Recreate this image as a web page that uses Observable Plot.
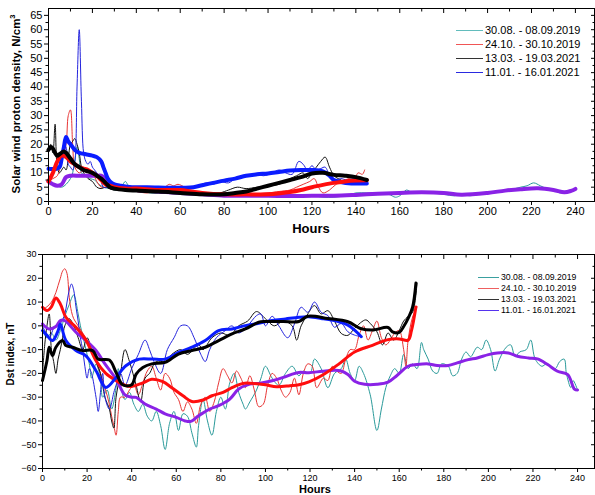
<!DOCTYPE html>
<html><head><meta charset="utf-8">
<script src="https://cdn.jsdelivr.net/npm/d3@7"></script>
<script src="https://cdn.jsdelivr.net/npm/@observablehq/plot@0.6"></script>
<style>
body{margin:0;background:#fff;font-family:"Liberation Sans",Arial,sans-serif;}
#wrap{position:relative;width:595px;height:495px;overflow:hidden;background:#fff;}
#wrap svg{position:absolute;left:0;}
.t{position:absolute;white-space:nowrap;color:#000;}
.rot{transform:translate(-50%,-50%) rotate(-90deg);font-weight:bold;}
.ctr{transform:translate(-50%,-50%);font-weight:bold;}
.leg{position:absolute;white-space:nowrap;display:flex;align-items:center;}
.leg span.l{display:inline-block;height:0;border-top:1.3px solid;margin-right:2px;}
</style></head><body>
<div id="wrap"></div>
<script>
// ---------- data ----------
const seriesLabels = ["30.08. - 08.09.2019", "24.10. - 30.10.2019", "13.03. - 19.03.2021", "11.01. - 16.01.2021"];
const hourTicks = [0,20,40,60,80,100,120,140,160,180,200,220,240];
const densTicks = [0,5,10,15,20,25,30,35,40,45,50,55,60,65];
const dstTicks = [-60,-50,-40,-30,-20,-10,0,10,20,30];

// Top panel: proton density (hours, N/cm3)
const topTeal = [[0,7],[2,6],[4,5.5],[6,5],[8,6],[10,8],[11,10],[12,14],[13,19],[14,15],[15,10],[17,9],[19,8],[21,7.5],[23,6],[25,5],[28,4.5],[31,4],[33,5],[35,7],[36,6],[38,4],[42,4],[46,3],[50,3],[55,3],[60,3],[65,2.5],[70,2.5],[75,2.5],[80,2],[85,2.5],[90,2],[95,2],[100,2],[105,2.5],[110,2],[115,1.5],[120,2],[125,1.5],[130,1.5],[135,2],[140,3],[145,3],[150,3],[155,2.5],[158,1.5],[160,2],[163,4],[166,3],[170,3.5],[175,3],[180,2.5],[185,2],[188,2.5],[192,2],[196,2.5],[200,3],[205,3.5],[210,4],[215,5],[218,5.5],[221,6.5],[224,5.5],[227,4.5],[230,4],[233,3],[236,3.5],[238,3.5],[240,4]];
const topRed = [[0,7],[2,8],[4,9],[6,14],[8,20],[9,30],[10,32],[11,20],[12,12],[14,10],[16,11],[18,11],[20,10],[22,7],[24,5],[26,5],[28,5],[30,4.5],[35,4],[40,3.5],[45,3],[50,4],[53,5],[55,6],[57,5.5],[59,6],[62,5],[65,3.5],[70,3],[80,2.5],[90,2.5],[100,3],[105,3.5],[110,4],[113,5],[116,6],[119,7],[121,8],[123,5],[125,3],[128,4],[131,6],[134,7],[137,8],[139,7],[141,10],[143,9.5],[144,11]];
const topBlack = [[0,18],[1,20],[2,17],[3,27],[4,12],[5,10],[6,11],[7,12],[8,11],[9,15],[10,20],[11,21],[12,22],[13,20],[14,17],[15,12],[16,10],[17,9],[18,8],[20,7],[22,5],[24,4.5],[26,5],[28,4.5],[30,4],[35,4],[40,3.5],[50,3],[60,3],[70,2.5],[78,3],[82,4],[86,5],[90,4.5],[95,5],[100,5.5],[105,6],[110,8],[113,9],[116,10],[118,8],[120,10],[122,12],[124,14],[126,15.5],[128,12],[130,9],[132,8],[135,7],[138,7.5],[141,7],[145,7.5]];
const topBlue = [[0,11],[2,11],[4,11],[6,15],[7,20],[8,19],[9,13],[10,12],[11,11],[12,14],[13,40],[14,60],[15,35],[16,17],[17,14],[18,13],[19,14],[20,12],[21,11],[22,10],[23,9],[24,7],[25,5],[27,5],[28,6],[30,5],[33,5],[36,4.5],[40,4.5],[45,4],[50,4.5],[55,4.5],[60,4],[65,5],[68,5.5],[72,6.5],[75,6],[78,7],[82,6.5],[85,8],[88,8.5],[92,9],[95,9.5],[98,9],[102,10],[105,11],[108,10],[111,9.5],[114,14],[116,13],[118,11],[120,12.5],[122,11],[124,11.5],[126,12],[128,9],[130,7],[133,8],[136,7.5],[139,8],[142,7.5],[145,7]];
const topPurpleSm = [[0,7],[2,6],[4,5.5],[6,6],[8,8.5],[10,9],[14,9],[18,9],[22,9],[24,9],[26,8],[28,6.5],[30,5.5],[33,5],[36,4.5],[40,4],[50,3.5],[60,3],[70,2.5],[80,2],[90,2],[100,2],[110,1.9],[120,2],[130,2],[140,2.3],[150,2.7],[160,3],[170,3.2],[180,3],[188,2.4],[200,3],[208,3.8],[215,4.3],[223,4.6],[230,4],[235,3.2],[238,3.7],[240,4.4]];
const topRedSm = [[0,7],[2,10],[4,14],[6,16],[8,15.5],[10,14],[12,13],[14,12],[16,11.5],[18,11],[20,10],[22,9],[24,7.5],[26,6],[28,5.5],[30,5],[35,4.5],[40,4.5],[50,4],[60,4],[65,3.5],[70,3],[80,2.5],[90,2.5],[100,2.5],[110,3.3],[115,4],[120,5],[125,5.8],[130,6.5],[135,7],[140,7.3],[145,7.4]];
const topBlackSm = [[0,18],[1,19],[2,18.5],[3,17],[4,16],[5,16.5],[7,17.5],[8,17],[10,15],[12,13],[14,12],[16,11],[18,10.5],[20,10],[22,9],[24,8],[26,6.5],[28,5],[30,4.5],[35,4],[40,3.8],[50,3.5],[60,3],[70,2.5],[80,2.5],[85,3],[90,3.5],[95,4.5],[100,5.5],[105,6.5],[110,7.5],[115,8.5],[120,9.8],[125,10],[130,9.3],[135,9],[140,8.5],[145,7.5]];
const topBlueSm = [[0,11.4],[3,11.4],[5,12],[6,15],[7,19],[8,22.5],[9,21],[10,20],[12,18],[14,17],[17,16.5],[20,16],[22,15.5],[24,14],[25,12],[26,10],[27,8],[28,7],[30,6],[33,5.5],[38,5],[45,5],[55,4.8],[62,4.8],[66,5],[70,5.7],[75,6.5],[80,7.3],[85,8],[90,9],[95,9.5],[100,9.8],[105,10.3],[110,10.8],[115,11],[120,11],[125,10.5],[128,9],[130,7.5],[133,6.8],[138,6.3],[145,6.3]];

// Bottom panel: Dst index (hours, nT)
const dstTeal = [[0,-2],[2,-5],[4,-3],[6,-6],[8,-2],[10,4],[12,9],[14,13],[16,5],[17,0],[18,-4],[19,-8],[20,-12],[21,-16],[22,-22],[23,-19],[24,-16],[26,-22],[27,-30],[29,-27],[31,-35],[33,-26],[34,-18],[35,-25],[37,-31],[39,-28],[41,-33],[43,-36],[45,-33],[47,-38],[49,-40],[51,-36],[53,-42],[55,-52],[57,-41],[59,-36],[61,-44],[63,-37],[65,-38],[67,-45],[69,-51],[70,-42],[72,-31],[74,-40],[76,-46],[78,-36],[80,-30],[82,-35],[84,-24],[86,-20],[88,-28],[90,-33],[91,-35],[93,-32],[96,-27],[98,-22],[100,-17],[103,-22],[106,-25],[109,-20],[112,-17],[115,-21],[117,-19],[120,-20],[122,-14],[125,-18],[128,-26],[131,-20],[134,-18],[136,-14],[138,-20],[140,-23],[142,-17],[144,-20],[147,-29],[150,-44],[152,-35],[154,-26],[156,-21],[158,-18],[160,-20],[162,-12],[164,-18],[166,-16],[168,-18],[170,-7],[171,-10],[173,-14],[175,-19],[177,-20],[179,-16],[182,-17],[184,-21],[186,-20],[188,-14],[190,-11],[192,-13],[195,-9],[197,-10],[199,-6],[201,-10],[203,-19],[205,-14],[208,-9],[210,-8],[212,-13],[214,-11],[217,-10],[219,-6],[221,-14],[224,-17],[226,-16],[228,-17],[230,-18],[232,-15],[234,-14],[235,-20],[237,-26],[238,-23],[240,-27]];
const dstRed = [[0,7],[2,8],[4,10],[6,14],[7,17],[8,20],[9,23],[10,24],[11,22],[12,12],[13,6],[14,3],[16,0],[18,-3],[20,-6],[22,-11],[24,-15],[26,-20],[28,-26],[30,-33],[31,-38],[32,-42],[33,-46],[34,-36],[35,-30],[37,-30],[39,-27],[41,-25],[43,-29],[45,-24],[47,-19],[49,-17],[51,-22],[53,-27],[55,-20],[57,-22],[59,-28],[61,-31],[63,-36],[65,-32],[67,-35],[69,-41],[71,-33],[73,-30],[75,-36],[77,-32],[79,-24],[81,-18],[83,-21],[85,-24],[87,-19],[89,-22],[91,-26],[93,-21],[95,-27],[97,-34],[99,-33],[101,-25],[103,-20],[105,-22],[107,-27],[109,-30],[111,-28],[113,-22],[115,-29],[117,-20],[119,-16],[121,-17],[123,-26],[126,-22],[128,-23],[130,-17],[132,-19],[134,-20],[136,-14],[138,-10],[140,-10],[142,-4],[144,0],[146,-6],[148,-2],[150,2],[152,-5],[154,-8],[156,-6],[158,-3],[160,-2],[162,-10],[163,-17],[164,-6],[166,3.7],[168,8]];
const dstBlack = [[0,-20],[1,-8],[2,0],[3,5],[4,-10],[5,-15],[6,-20],[7,-14],[8,-10],[9,-5],[10,0],[12,3],[14,0],[16,-5],[18,-10],[20,-5],[22,-10],[24,-15],[26,-20],[28,-30],[30,-35],[31,-40],[32,-43],[33,-30],[35,-20],[37,-10],[39,-15],[42,-25],[44,-32],[46,-22],[48,-20],[51,-15],[55,-15],[58,-12],[62,-10],[65,-12],[70,-8],[72,-10],[76,-5],[80,-3],[84,-4],[88,0],[92,2],[96,6],[100,3],[104,0],[108,2],[112,0],[114,-6],[116,0],[119,5],[122,8.5],[125,5],[128,6.4],[131,2],[134,-3.2],[137,-4],[140,-1],[145,2.5],[147,1],[150,-2.5],[152.5,-8],[155,-3],[157.5,-6],[160,-2],[162,2],[164,4],[166,5.7],[168,18]];
const dstBlue = [[0,0],[1,-2],[3,-5],[5,-1],[6,0],[8,1],[10,5],[11,10],[12,15],[13,17.6],[14,15],[15,8],[16,2],[17,-5],[18,-10],[19,-17],[20,-22],[21,-18],[22,-20],[24,-30],[25,-36],[26,-28],[27,-20],[28,-30],[30,-35],[32,-28],[33,-25],[35,-20],[37,-25],[40,-18],[43,-12],[46,-6],[48,-10],[50,-15],[53,-20],[56,-10],[59,-5],[62,0],[65,0],[68,-5],[71,-12],[73,-15],[75,-10],[78,-5],[82,-2],[85,0],[88,-3],[92,0],[96,4.3],[98,5],[100,0],[103,4],[106,0],[110,-5],[113,0.8],[116,7.8],[119,5.7],[122,10],[125,5.7],[128,4.3],[131,-0.6],[134,1],[137,-2.5],[140,-3.9],[143,-4.6]];
const dstPurpleSm = [[0,0.8],[3,-1.3],[6,-0.3],[8,2.2],[10,2.2],[12,0.5],[15,-2.7],[19.5,-6.2],[24,-10.4],[28,-16],[33,-22.4],[37,-29],[40,-30],[42,-30.1],[46,-32.9],[51,-35],[55,-37],[60,-38.5],[64,-40],[66.5,-40.2],[70,-37.8],[75,-35],[79,-33.6],[84,-30.8],[88,-26.6],[93,-24.5],[97,-24.2],[103,-23.1],[108,-21.7],[112,-20.3],[115,-19.6],[119.5,-19.7],[125.5,-19.1],[131,-18.7],[134,-19],[137,-20.5],[140,-23.3],[144.5,-24.6],[150,-24.6],[155,-23.7],[159,-20.9],[164,-17],[168,-16.3],[173,-16],[177,-16.7],[182,-16.7],[186,-15.6],[191,-14.2],[195,-13.5],[200,-12.1],[204,-11.4],[209,-11.4],[213,-12.8],[218,-13.5],[222,-13.9],[226.6,-16.3],[231,-19.1],[235.6,-20.5],[238.6,-26.6],[240,-27]];
const dstRedSm = [[0,7.8],[2,6.4],[4,8],[6,11.7],[8,9.2],[10.5,3.6],[15,-0.6],[19.5,-6],[24,-14.7],[28.4,-20],[33,-23],[37,-25],[40,-25.5],[45,-24],[49,-22.5],[54,-23.5],[58,-26],[63,-29.4],[67,-31.8],[72,-31.2],[76,-29.4],[81,-28],[85,-26],[90,-24.2],[94,-24.2],[100,-24.8],[105,-25.6],[111,-25.2],[115,-24.8],[119.5,-23.6],[125.5,-20.8],[133,-16],[140,-11],[148,-8.2],[155,-5.8],[160,-5.5],[164,-6],[165.5,-2],[167.5,7.9]];
const dstBlackSm = [[0,-23],[2,-14.7],[3,-9],[4.5,-12.5],[6,-9],[9,-6.2],[10.5,-8.3],[13.5,-9],[18,-10.4],[22.5,-10.4],[25,-14],[30,-14.4],[33,-19.6],[36,-24.8],[40,-24.8],[42,-20.3],[45,-17.5],[49,-16],[55,-15.4],[61,-11.9],[67,-10.4],[73,-9],[79,-6.2],[85,-3.4],[91,-1.3],[97,1.5],[100,1.8],[108,1.8],[115,1.8],[119,4],[128,3.1],[137,1.7],[142.6,-1.1],[148,-1.8],[155,-0.7],[157,-2.5],[160,-2.8],[162,-0.3],[164,3.1],[166,7.9],[167.5,18]];
const dstBlueSm = [[0,-2],[2,-4],[4.5,-6.2],[7,-2],[8,0.8],[10.5,-6.2],[15,-10.4],[19.5,-12.6],[24,-18.9],[28.4,-25.9],[33,-21.7],[37.4,-16.8],[43.4,-14],[49.4,-14],[55,-14],[61,-11.2],[67,-9],[73,-6.2],[79,-2],[85,-1.3],[91,0.1],[97,1.1],[103,2.2],[109,2.9],[115,3.6],[119.5,3.8],[125,3.1],[133,1.7],[137,0.3],[140,-1.8],[143,-4.6]];

// ---------- styles ----------
const cTealThin = "#2a9a9a", cRedThin = "#e83535", cBlackThin = "#111111", cBlueThin = "#2424dd";
const cPurple = "#8a22e6", cRedThick = "#ff0d0d", cBlackThick = "#000000", cBlueThick = "#0a1cff";
const legColsTop = ["#62bcbc", "#f05555", "#333333", "#2a2ae0"];
const legColsBot = ["#3aa0a0", "#ee6060", "#333333", "#5533ee"];
const font = "'Liberation Sans', Arial, sans-serif";

const X = d => d[0], Y = d => d[1];
function thin(data, stroke) { return Plot.line(data, {x: X, y: Y, stroke, strokeWidth: 1, curve: "catmull-rom"}); }
function thick(data, stroke, w) { return Plot.line(data, {x: X, y: Y, stroke, strokeWidth: w, curve: "catmull-rom", strokeLinejoin: "round", strokeLinecap: "round"}); }
const noText = () => "";

function axes(xMinor, yTicks, yMinor, fs) {
  return [
    Plot.axisX({ticks: hourTicks, tickSize: 4, tickPadding: 2, fontSize: fs, label: null}),
    Plot.axisX({ticks: xMinor, tickSize: 2.5, tickFormat: noText, label: null}),
    Plot.axisX({anchor: "top", ticks: hourTicks, tickSize: -4, tickFormat: noText, label: null}),
    Plot.axisX({anchor: "top", ticks: xMinor, tickSize: -2.5, tickFormat: noText, label: null}),
    Plot.axisY({ticks: yTicks, tickSize: 4, tickPadding: 2, fontSize: fs, label: null}),
    Plot.axisY({ticks: yMinor, tickSize: 2.5, tickFormat: noText, label: null}),
    Plot.axisY({anchor: "right", ticks: yTicks, tickSize: -4, tickFormat: noText, label: null}),
    Plot.axisY({anchor: "right", ticks: yMinor, tickSize: -2.5, tickFormat: noText, label: null}),
    Plot.frame({stroke: "#000", strokeWidth: 1})
  ];
}
const hourMinor = d3.range(10, 250, 20);

const topPlot = Plot.plot({
  width: 595, height: 240, marginLeft: 48, marginRight: 1, marginTop: 8, marginBottom: 39,
  style: {fontFamily: font, background: "white", color: "#000", overflow: "visible"},
  x: {domain: [0, 248.7]},
  y: {domain: [0, 67.4]},
  marks: [
    thin(topTeal, cTealThin), thin(topRed, cRedThin), thin(topBlack, cBlackThin), thin(topBlue, cBlueThin),
    thick(topPurpleSm, cPurple, 4), thick(topBlueSm, cBlueThick, 4), thick(topRedSm, cRedThick, 4), thick(topBlackSm, cBlackThick, 4),
    ...axes(hourMinor, densTicks, d3.range(2.5, 67, 5), 11)
  ]
});
topPlot.style.top = "0px";

const botPlot = Plot.plot({
  width: 595, height: 255, marginLeft: 42, marginRight: 1, marginTop: 14, marginBottom: 27,
  style: {fontFamily: font, background: "white", color: "#000", overflow: "visible"},
  x: {domain: [0, 247.6]},
  y: {domain: [-60, 30]},
  marks: [
    thin(dstTeal, cTealThin), thin(dstRed, cRedThin), thin(dstBlack, cBlackThin), thin(dstBlue, cBlueThin),
    thick(dstPurpleSm, cPurple, 3), thick(dstRedSm, cRedThick, 3), thick(dstBlueSm, cBlueThick, 3), thick(dstBlackSm, cBlackThick, 3),
    ...axes(hourMinor, dstTicks, d3.range(-55, 30, 10), 9)
  ]
});
botPlot.style.top = "240px";

const wrap = document.getElementById("wrap");
wrap.appendChild(topPlot);
wrap.appendChild(botPlot);

function addText(html, cls, left, top, size) {
  const d = document.createElement("div");
  d.className = "t " + cls;
  d.innerHTML = html;
  d.style.left = left + "px"; d.style.top = top + "px"; d.style.fontSize = size + "px";
  wrap.appendChild(d);
}
addText("Solar wind proton density, N/cm<sup style='font-size:0.65em'>3</sup>", "rot", 15, 104, 11.5);
addText("Hours", "ctr", 311, 228, 13);
addText("Dst index, nT", "rot", 10, 354, 10);
addText("Hours", "ctr", 315, 489, 11);

function legend(x, y, rowH, lineW, size, cols) {
  seriesLabels.forEach((s, i) => {
    const d = document.createElement("div");
    d.className = "leg";
    d.style.left = x + "px"; d.style.top = (y + i * rowH) + "px"; d.style.fontSize = size + "px";
    d.style.height = rowH + "px";
    d.innerHTML = `<span class="l" style="width:${lineW}px;border-color:${cols[i]}"></span><span>${s}</span>`;
    wrap.appendChild(d);
  });
}
legend(456, 23, 14, 27, 11, legColsTop);
legend(478, 271.5, 11, 21, 8.7, legColsBot);
</script>
</body></html>
